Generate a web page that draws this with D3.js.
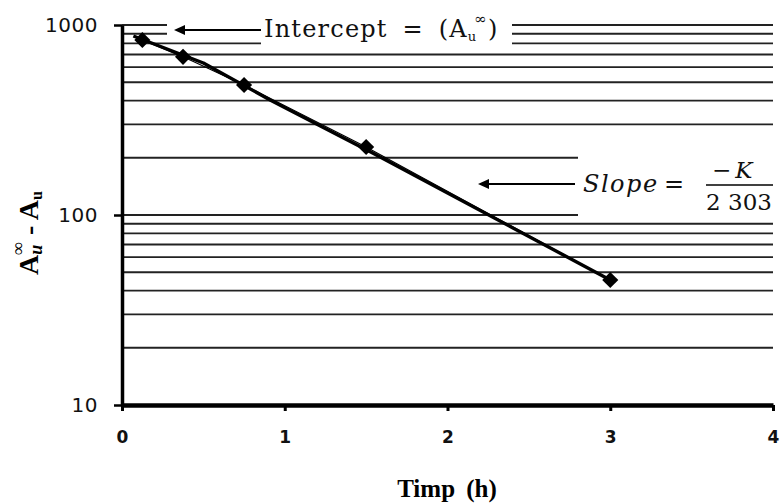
<!DOCTYPE html>
<html>
<head>
<meta charset="utf-8">
<script src="https://cdn.jsdelivr.net/npm/d3@7"></script>
<style>
  body { margin: 0; background: #fff; }
</style>
</head>
<body>
<script>
// measured points (time in hours, A_u(inf) - A_u)
const timeH = [0.125, 0.375, 0.75, 1.5, 3];
const absDiff = [834, 680, 483, 228, 45.5];
// the thick fitted line
const fitTime = [0.07, 0.5, 0.91, 1.54, 3];
const fitValue = [875, 631, 403, 212, 45.5];

const xTicks = [0, 1, 2, 3, 4];
const yTicks = [10, 100, 1000];
const gridValues = [20, 30, 40, 50, 60, 70, 80, 90, 100,
                    200, 300, 400, 500, 600, 700, 800, 900, 1000];

const svg = d3.select("body")
  .append("svg")
  .attr("width", 782)
  .attr("height", 504);

const x = d3.scaleLinear().domain([0, 4]).range([122, 773]);
const y = d3.scaleLog().domain([10, 1000]).range([405, 25]);

// horizontal grid
svg.append("g")
  .selectAll("line")
  .data(gridValues)
  .enter()
  .append("line")
  .attr("x1", x(0))
  .attr("x2", x(4))
  .attr("y1", d => y(d))
  .attr("y2", d => y(d))
  .attr("stroke", "#222")
  .attr("stroke-width", 1.9);

// white boxes behind the annotations
svg.append("rect").attr("x", 167).attr("y", 19).attr("width", 94).attr("height", 20).attr("fill", "#fff");
svg.append("rect").attr("x", 261).attr("y", 8).attr("width", 251).attr("height", 40).attr("fill", "#fff");
svg.append("rect").attr("x", 578).attr("y", 150).attr("width", 200).attr("height", 69).attr("fill", "#fff");

let line = d3.line().x(d => x(d[0])).y(d => y(d[1]));

// thin line joining the points
let pts = timeH.map((t, i) => [t, absDiff[i]]);
svg.append("path")
  .datum(pts)
  .attr("fill", "none")
  .attr("stroke", "#000")
  .attr("stroke-width", 1.2)
  .attr("d", line);

// fitted line
svg.append("path")
  .datum(fitTime.map((t, i) => [t, fitValue[i]]))
  .attr("fill", "none")
  .attr("stroke", "#000")
  .attr("stroke-width", 3.4)
  .attr("stroke-linejoin", "round")
  .attr("d", line);

// markers (square turned 45deg)
svg.append("g")
  .selectAll("path")
  .data(pts)
  .enter()
  .append("path")
  .attr("transform", d => `translate(${x(d[0])},${y(d[1])}) rotate(45)`)
  .attr("d", d3.symbol().type(d3.symbolSquare).size(130))
  .attr("fill", "#000");

// axes
let yAxis = d3.axisLeft(y)
  .tickValues(yTicks)
  .tickFormat(d3.format("d"))
  .tickSize(8)
  .tickSizeOuter(0)
  .tickPadding(16);
let gy = svg.append("g")
  .attr("transform", `translate(${x(0)},0)`)
  .call(yAxis);
gy.select(".domain").attr("stroke-width", 3.5);
gy.selectAll(".tick line").attr("stroke-width", 2.5);
gy.selectAll("text")
  .attr("font-family", "DejaVu Sans")
  .attr("font-size", 20)
  .attr("letter-spacing", 0.5)
  .attr("fill", "#111");

let xAxis = d3.axisBottom(x)
  .tickValues(xTicks)
  .tickFormat(d3.format("d"))
  .tickSize(6)
  .tickSizeOuter(0)
  .tickPadding(20);
let gx = svg.append("g")
  .attr("transform", `translate(0,${y(10)})`)
  .call(xAxis);
gx.select(".domain").attr("stroke-width", 4.5);
gx.selectAll(".tick line").attr("stroke-width", 3);
gx.selectAll("text")
  .attr("font-family", "DejaVu Sans")
  .attr("font-weight", "bold")
  .attr("font-size", 17)
  .attr("fill", "#111");

// axis titles
svg.append("text")
  .attr("x", 447)
  .attr("y", 497)
  .attr("text-anchor", "middle")
  .attr("font-family", "Liberation Serif")
  .attr("font-weight", "bold")
  .attr("font-size", 25)
  .attr("word-spacing", 5)
  .text("Timp (h)");

let yt = svg.append("text")
  .attr("transform", "translate(38,233) rotate(-90)")
  .attr("text-anchor", "middle")
  .attr("font-family", "Liberation Serif")
  .attr("font-weight", "bold")
  .attr("font-size", 28);
yt.append("tspan").text("A");
yt.append("tspan").attr("font-size", 18).attr("font-style", "italic").attr("dy", 4).text("u");
yt.append("tspan").attr("font-size", 18).attr("dx", -10).attr("dy", -18).text("∞");
yt.append("tspan").attr("dy", 14).text(" - A");
yt.append("tspan").attr("font-size", 16).attr("dy", 4).text("u");

// intercept note
function arrowLeft(tipX, yy, tailX) {
  svg.append("line")
    .attr("x1", tipX + 8).attr("x2", tailX)
    .attr("y1", yy).attr("y2", yy)
    .attr("stroke", "#000").attr("stroke-width", 2);
  svg.append("path")
    .attr("d", `M${tipX},${yy} L${tipX + 11},${yy - 5} L${tipX + 11},${yy + 5} Z`)
    .attr("fill", "#000");
}
arrowLeft(174, 30, 261);

let it = svg.append("text")
  .attr("x", 264)
  .attr("y", 37)
  .attr("font-family", "DejaVu Serif")
  .attr("font-size", 24)
  .attr("letter-spacing", 1.2)
  .attr("word-spacing", 6)
  .attr("fill", "#111");
it.append("tspan").text("Intercept = (A");
it.append("tspan").attr("font-size", 13).attr("dy", 4).text("u");
it.append("tspan").attr("font-size", 15).attr("dx", -3).attr("dy", -17).text("∞");
it.append("tspan").attr("dy", 13).text(")");

// slope note
arrowLeft(478, 184, 575);
svg.append("text")
  .attr("x", 583)
  .attr("y", 192)
  .attr("font-family", "DejaVu Serif")
  .attr("font-style", "italic")
  .attr("font-size", 24)
  .attr("letter-spacing", 1.5)
  .attr("fill", "#111")
  .text("Slope");
svg.append("text")
  .attr("x", 664)
  .attr("y", 192)
  .attr("font-family", "DejaVu Serif")
  .attr("font-size", 24)
  .attr("fill", "#111")
  .text("=");
let num = svg.append("text")
  .attr("x", 712)
  .attr("y", 178)
  .attr("font-family", "DejaVu Serif")
  .attr("font-size", 23)
  .attr("fill", "#111");
num.append("tspan").text("−");
num.append("tspan").attr("dx", 4).attr("font-style", "italic").text("K");
svg.append("line")
  .attr("x1", 706).attr("x2", 773)
  .attr("y1", 185).attr("y2", 185)
  .attr("stroke", "#000").attr("stroke-width", 1.6);
svg.append("text")
  .attr("x", 739)
  .attr("y", 210)
  .attr("text-anchor", "middle")
  .attr("font-family", "DejaVu Serif")
  .attr("font-size", 23)
  .attr("fill", "#111")
  .text("2 303");
</script>
</body>
</html>
